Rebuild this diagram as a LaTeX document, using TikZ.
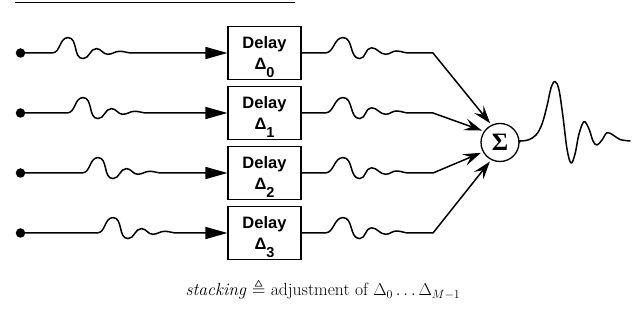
\documentclass[tikz,border=0pt]{standalone}
\usepackage{amssymb}
\usepackage{fontspec}
\newfontfamily\hv{Liberation Sans}
\newfontfamily\tms{Liberation Serif}
\usetikzlibrary{arrows.meta}
\begin{document}
\begin{tikzpicture}[x=1pt,y=1pt,
  sig/.style={line width=1.5pt, line join=round, line cap=round},
  wv/.style={out=0,in=180},
  box/.style={draw, line width=1.2pt, minimum width=73pt, minimum height=53pt,
    inner sep=0pt, align=center, font=\hv\bfseries\fontsize{16.5}{21.7}\selectfont},
  dot/.style={circle, fill, inner sep=0pt, minimum size=9.5pt},
  inarrow/.style={-{Triangle[length=22pt,width=12pt]}},
  sumarrow/.style={-{Stealth[length=18pt,width=12pt,inset=7pt]}, shorten >=2pt},
  sumnode/.style={circle, draw, line width=1.3pt, minimum size=38pt, inner sep=0pt,
    font=\tms\bfseries\fontsize{25}{25}\selectfont},
  rule/.style={line width=1pt}
]
\useasboundingbox (0,0) rectangle (644,312);
% top rule
\coordinate (t1) at (15,309.3);
\coordinate (t2) at (295,309.3);
\draw[rule] (t1) -- (t2);
% summation node
\node[sumnode] (s) at (500,169.5) {Σ};
% rows
\foreach \i/\y/\p/\a in {0/259/68/116,1/199/83/145,2/139/98/209,3/79/113/243}{
  \node[dot] (d\i) at (20.5,\y) {};
  \node[box] (b\i) at (264.5,\y) {Delay\\Δ\smash{\raisebox{-8pt}{\fontsize{14.5}{14.5}\selectfont\i}}};
  \coordinate (wi\i) at (\p,\y);
  \coordinate (wo\i) at (343,\y);
  \coordinate (k\i) at (433,\y);
  \draw[sig,inarrow] (d\i.center) -- ([xshift=-16pt]wi\i)
    \foreach \t/\m in {0/15.4,15/-5.6,28.4/4.4,39.7/-1.3,51.7/1.7,64/0}
      { to[wv] ([shift={(\t,\m)}]wi\i) }
    -- (b\i.west);
  \draw[sig,sumarrow] (b\i.east) -- ([xshift=-18pt]wo\i)
    \foreach \t/\m in {0/15.4,16.7/-5.6,28.4/5.2,42.7/-1.3,53.4/2,66/0}
      { to[wv] ([shift={(\t,\m)}]wo\i) }
    -- (k\i) -- (s.\a);
}
% output trace
\draw[sig] (s.east) -- plot[smooth,tension=0.6] coordinates {
  (519,171) (528,172) (536,177) (542,188) (547,206) (551,224) (555,230.5)
  (559,222) (563,195) (567,163) (571,149) (575,158) (579,178) (584,190.3)
  (589,183) (593,171) (597,167) (602,172) (607,179.3) (613,177) (620,172.5) (630,171)};
% caption
\node[anchor=base] (cap) at (323,16) {\fontsize{17.6}{20}\selectfont\textit{stacking} $\triangleq$ adjustment of $\Delta_0\ldots\Delta_{M-1}$};
\end{tikzpicture}
\end{document}
